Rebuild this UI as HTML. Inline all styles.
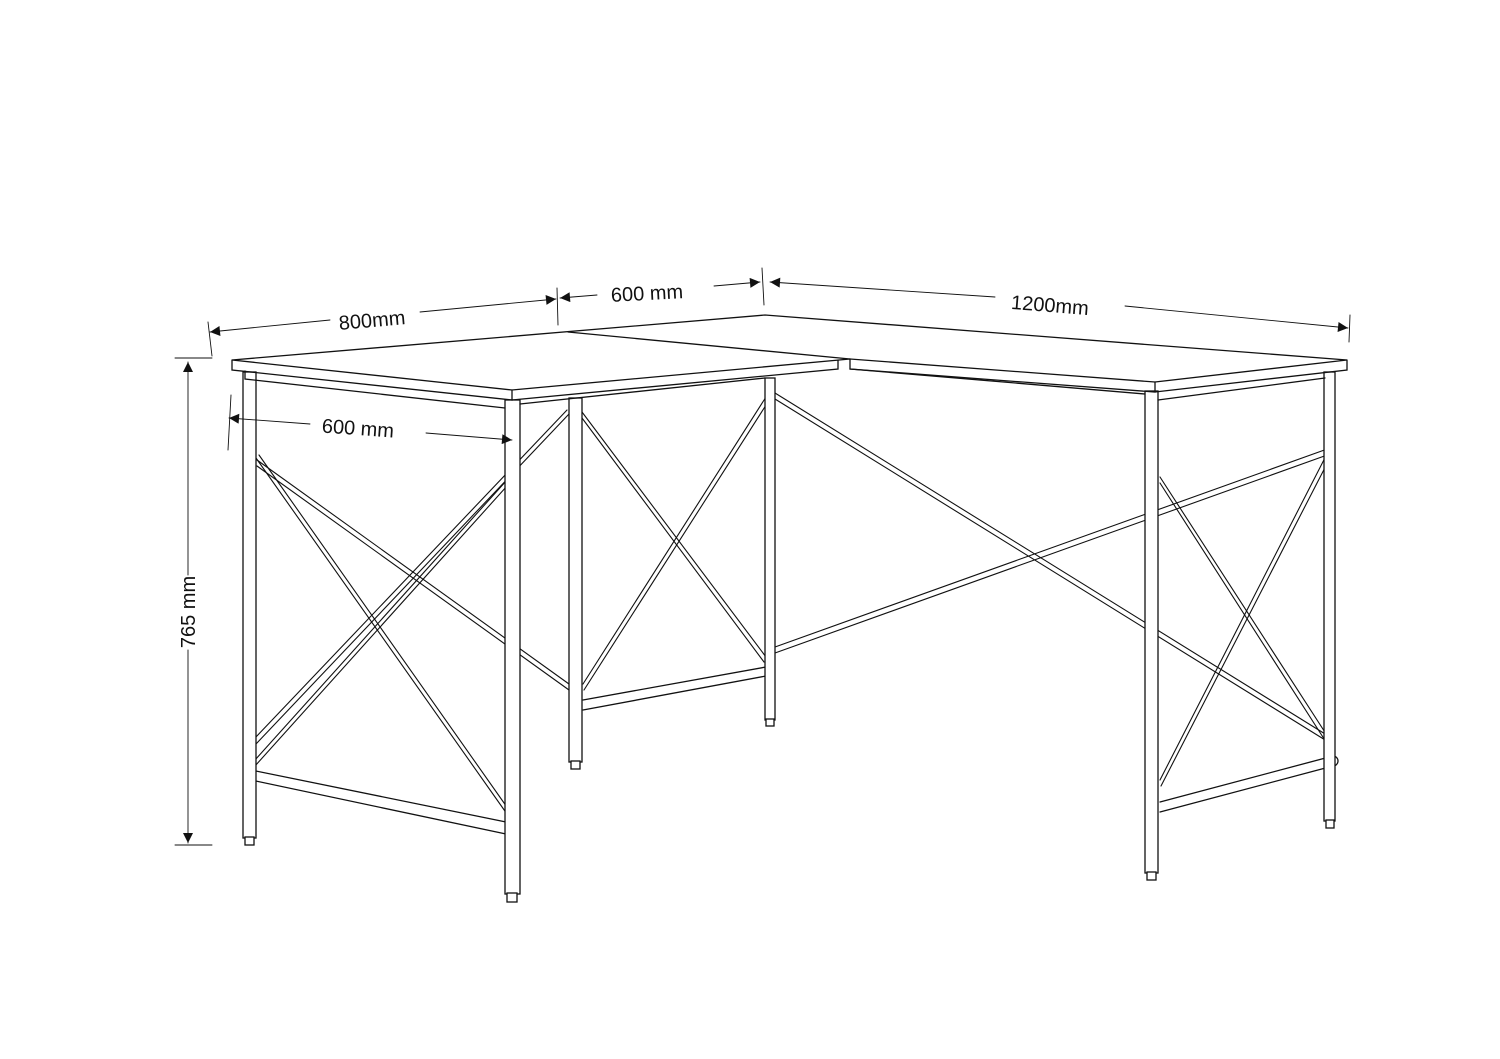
<!DOCTYPE html>
<html><head><meta charset="utf-8"><style>
html,body{margin:0;padding:0;background:#fff;}
svg{display:block;}
text{font-family:"Liberation Sans",sans-serif;font-size:20px;fill:#111;}
</style></head><body>
<svg width="1500" height="1059" viewBox="0 0 1500 1059" xmlns="http://www.w3.org/2000/svg">
<defs>
<marker id="ar" viewBox="0 0 10 10" refX="10" refY="5" markerWidth="16" markerHeight="10" markerUnits="userSpaceOnUse" orient="auto-start-reverse"><path d="M0,0L10,5L0,10z" fill="#111"/></marker>
</defs>
<g stroke="#111" stroke-width="1.3" fill="none" stroke-linecap="round">
<g stroke-width="1.1">
<path d="M256,458L507,814M259,455L509,810"/>
<path d="M507,480L255,760M507,486L255,766"/>
<path d="M257,460L569,684M257,466L569,690"/>
<path d="M567,410L255,738M569,414L256,744"/>
<path d="M582,412L766,657M582,418L764,662"/>
<path d="M766,397L583,684M768,402L584,690"/>
<path d="M775,393L1330,737M775,399L1330,743"/>
<path d="M775,647L1330,448M775,653L1330,454"/>
<path d="M1160,477L1330,740M1160,483L1328,745"/>
<path d="M1330,448L1160,780M1332,454L1161,786"/>
</g>
<path d="M251,770L506,822M251,780L506,834"/>
<path d="M251,770a5,5 0 0 0 0,10"/>
<path d="M583,700L766,667M583,710L766,676"/>
<path d="M1160,802L1333,756M1160,812L1333,766"/>
<path d="M1333,756a5,5 0 0 1 0,10"/>
<g fill="#fff">
<rect x="243" y="372" width="13" height="466"/>
<rect x="245" y="837" width="9" height="8"/>
<rect x="569" y="398" width="13" height="364"/>
<rect x="571" y="761" width="9" height="8"/>
<rect x="765" y="378" width="10" height="342"/>
<rect x="766" y="719" width="8" height="7"/>
<rect x="1145" y="391" width="13" height="482"/>
<rect x="1147" y="872" width="9" height="8"/>
<rect x="1324" y="372" width="11" height="449"/>
<rect x="1326" y="820" width="8" height="8"/>
<rect x="505" y="400" width="15" height="494"/>
<rect x="507" y="893" width="10" height="9"/>
</g>
<path d="M232,360L765,315L1347,360L1155,382L850,359L512,390Z" fill="#fff"/>
<path d="M568,332L850,359"/>
<path d="M232,360L232,370L512,400L512,390M512,400L838,369L838,360M850,359L850,369L1155,392L1155,382M1155,392L1347,370L1347,360"/>
<path d="M245,371L245,379L505,408M520,404L765,378M850,369L1145,394M1158,400L1325,378"/>
<g stroke-width="0.9">
<path d="M175,358L212,358M175,845L212,845M208,322L212,356"/>
<path d="M188,362L188,575M188,650L188,843" marker-start="url(#ar)" marker-end="url(#ar)"/>
<path d="M210,332L330,320" marker-start="url(#ar)"/>
<path d="M420,312L556,299" marker-end="url(#ar)"/>
<path d="M557,288L558,325M762,268L764,305"/>
<path d="M560,298L597,295" marker-start="url(#ar)"/>
<path d="M714,286L760,282" marker-end="url(#ar)"/>
<path d="M770,282L995,297" marker-start="url(#ar)"/>
<path d="M1125,306L1348,328" marker-end="url(#ar)"/>
<path d="M1350,315L1349,342"/>
<path d="M231,395L228,450"/>
<path d="M229,418L310,424" marker-start="url(#ar)"/>
<path d="M426,433L512,440" marker-end="url(#ar)"/>
</g>
</g>
<text x="372" y="327" text-anchor="middle" transform="rotate(-5 372 320)">800mm</text>
<text x="647" y="300" text-anchor="middle" transform="rotate(-3 647 293)">600 mm</text>
<text x="1050" y="312" text-anchor="middle" transform="rotate(4.5 1050 305)">1200mm</text>
<text x="358" y="435" text-anchor="middle" transform="rotate(4 358 428)">600 mm</text>
<text x="188" y="619" text-anchor="middle" transform="rotate(-90 188 612)">765 mm</text>
</svg>
</body></html>
